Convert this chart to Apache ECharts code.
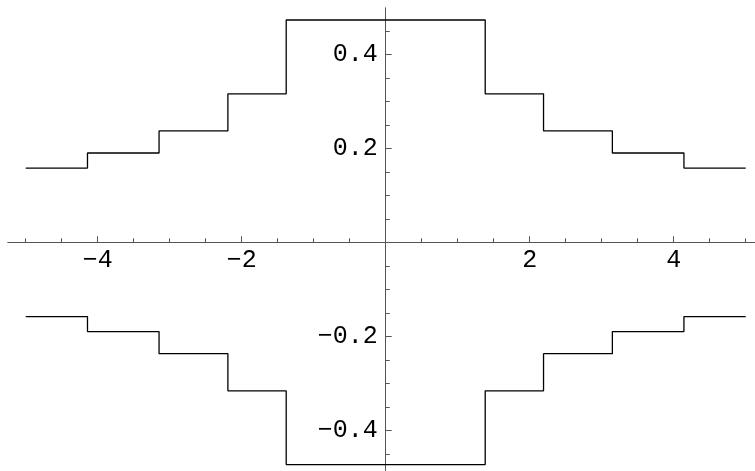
<!DOCTYPE html>
<html>
<head>
<meta charset="utf-8">
<script src="https://cdn.jsdelivr.net/npm/echarts@6/dist/echarts.min.js"></script>
<style>
  html, body { margin: 0; padding: 0; background: #fff; }
  #chart { width: 755px; height: 471px; }
</style>
</head>
<body>
<div id="chart"></div>
<script>
// Step function: x positions where the level changes, and the level held on each piece
const domain = [-5, 5];
const jumpX = [-4.142, -3.148, -2.192, -1.382, 1.382, 2.192, 3.148, 4.142];
const upperLevels = [0.158, 0.190, 0.237, 0.316, 0.473, 0.316, 0.237, 0.190, 0.158];
const lowerLevels = [-0.158, -0.190, -0.237, -0.316, -0.473, -0.316, -0.237, -0.190, -0.158];

// Tick marks
const xMajorTicks = [-4, -2, 2, 4];
const xMinorTicks = [-5, -4.5, -4, -3.5, -3, -2.5, -2, -1.5, -1, -0.5, 0.5, 1, 1.5, 2, 2.5, 3, 3.5, 4, 4.5, 5];
const yMajorTicks = [-0.4, -0.2, 0.2, 0.4];
const yMinorTicks = [-0.45, -0.4, -0.35, -0.3, -0.25, -0.2, -0.15, -0.1, -0.05, 0.05, 0.1, 0.15, 0.2, 0.25, 0.3, 0.35, 0.4, 0.45];

// Visible axis extents
const xRange = [-5.246, 5.129];
const yRange = [-0.4866, 0.4985];

const W = 755, H = 471;
const grid = { left: 8, right: 0, top: 8, bottom: 0 };
const plotW = W - grid.left - grid.right;
const plotH = H - grid.top - grid.bottom;
// Axes cross at the origin: shift them in from the grid edges
const xAxisOffset = -plotH * (0 - yRange[0]) / (yRange[1] - yRange[0]);
const yAxisOffset = -plotW * (0 - xRange[0]) / (xRange[1] - xRange[0]);

function stepPoints(levels) {
  const edges = [domain[0], ...jumpX, domain[1]];
  const pts = [];
  levels.forEach((v, i) => {
    pts.push([edges[i], v]);
    pts.push([edges[i + 1], v]);
  });
  return pts;
}

const fmt = v => (v < 0 ? '\u2212' + Math.abs(v) : String(v));
const axisColor = '#555';
const labelStyle = { color: '#000', fontFamily: 'Liberation Mono', fontSize: 25 };

function xAxis(ticks, len, labels) {
  return {
    type: 'value', min: xRange[0], max: xRange[1], position: 'bottom', offset: xAxisOffset,
    axisLine: { show: true, onZero: false, lineStyle: { color: axisColor, width: 1 } },
    axisTick: { show: true, inside: true, length: len, customValues: ticks, lineStyle: { color: axisColor } },
    axisLabel: labels ? { show: true, customValues: ticks, formatter: fmt, margin: 6, ...labelStyle } : { show: false },
    splitLine: { show: false }
  };
}
function yAxis(ticks, len, labels) {
  return {
    type: 'value', min: yRange[0], max: yRange[1], position: 'left', offset: yAxisOffset,
    axisLine: { show: true, onZero: false, lineStyle: { color: axisColor, width: 1 } },
    axisTick: { show: true, inside: true, length: len, customValues: ticks, lineStyle: { color: axisColor } },
    axisLabel: labels ? { show: true, customValues: ticks, formatter: fmt, margin: 8, ...labelStyle } : { show: false },
    splitLine: { show: false }
  };
}

const chart = echarts.init(document.getElementById('chart'), null, { renderer: 'canvas' });
chart.setOption({
  animation: false,
  backgroundColor: '#fff',
  grid: { ...grid, containLabel: false, outerBoundsMode: 'none' },
  xAxis: [xAxis(xMajorTicks, 6, true), xAxis(xMinorTicks, 4, false)],
  yAxis: [yAxis(yMajorTicks, 6, true), yAxis(yMinorTicks, 4, false)],
  series: [
    {
      type: 'line', data: stepPoints(upperLevels), showSymbol: false,
      lineStyle: { color: '#000', width: 1.3 }, silent: true
    },
    {
      type: 'line', data: stepPoints(lowerLevels), showSymbol: false,
      lineStyle: { color: '#000', width: 1.3 }, silent: true
    }
  ]
});
</script>
</body>
</html>
